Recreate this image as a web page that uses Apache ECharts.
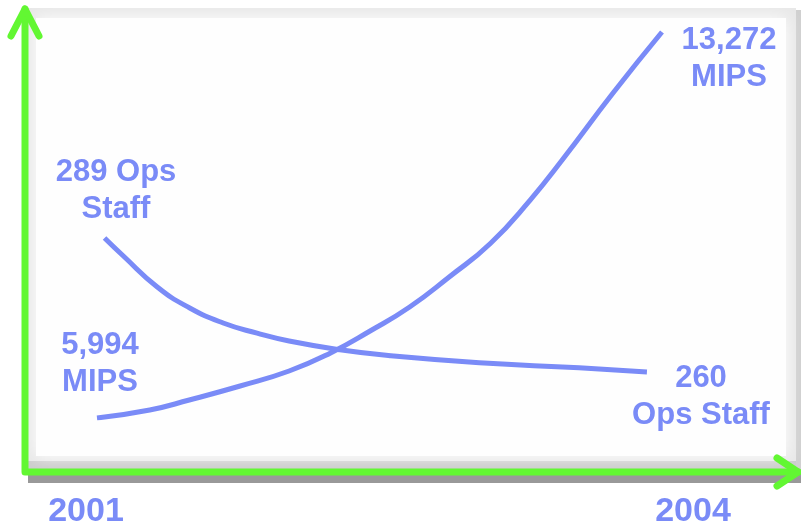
<!DOCTYPE html>
<html>
<head>
<meta charset="utf-8">
<script src="https://cdn.jsdelivr.net/npm/echarts@6/dist/echarts.min.js"></script>
<style>
html,body{margin:0;padding:0;background:#fff;}
#main{width:801px;height:528px;}
</style>
</head>
<body>
<div id="main"></div>
<script>
// Data (x = year position, y = value)
const mipsYears  = [2001.00, 2001.28, 2001.49, 2001.76, 2002.02, 2002.24, 2002.45, 2002.66, 2002.87, 2003.09, 2003.30, 2003.47, 2003.74, 2004.00];
const mipsValues = [5994, 6145, 6333, 6597, 6880, 7220, 7634, 8087, 8653, 9290, 10104, 10859, 12122, 13272];
const staffYears  = [2001.04, 2001.14, 2001.32, 2001.49, 2001.67, 2001.85, 2002.02, 2002.29, 2002.56, 2003.03, 2003.56, 2003.92];
const staffValues = [289, 285.1, 278.4, 273.9, 270.6, 268.4, 266.7, 264.8, 263.5, 262.0, 260.9, 260];
const yearLabels = ['2001', '2004'];
const mipsLabels = ['5,994\nMIPS', '13,272\nMIPS'];
const staffLabels = ['289 Ops\nStaff', '260\nOps Staff'];

const blue = '#7a8bf7';
const green = '#62f732';
const font = '"Liberation Sans", Arial, Helvetica, sans-serif';

function txt(s, x, y, size) {
  return {
    type: 'text', x: x, y: y, z: 10,
    style: {
      text: s, fill: blue, font: 'bold ' + size + 'px ' + font,
      textAlign: 'center', textVerticalAlign: 'middle', lineHeight: 37
    }
  };
}

const chart = echarts.init(document.getElementById('main'), null, {renderer: 'canvas'});
chart.setOption({
  animation: false,
  backgroundColor: '#ffffff',
  grid: {left: 97, right: 139, top: 32, bottom: 110},
  xAxis: {type: 'value', min: 2001, max: 2004, show: false},
  yAxis: [
    {type: 'value', min: 5994, max: 13272, show: false},
    {type: 'value', min: 250.04, max: 333.58, show: false}
  ],
  graphic: [
    {type: 'rect', z: 0, shape: {x: 28, y: 10, width: 773, height: 473}, style: {fill: '#d0d0d0'}},
    {type: 'rect', z: 0, shape: {x: 28, y: 474, width: 773, height: 9}, style: {fill: '#999999'}},
    {type: 'rect', z: 0, shape: {x: 26, y: 8, width: 770, height: 466}, style: {fill: '#e8e8e8'}},
    {type: 'rect', z: 0, shape: {x: 26, y: 461, width: 770, height: 8}, style: {fill: '#cccccc'}},
    {type: 'rect', z: 1, shape: {x: 36, y: 18, width: 750, height: 438},
      style: {fill: '#fefefe', shadowBlur: 16, shadowColor: '#ffffff'}},
    {type: 'polyline', z: 5, shape: {points: [[25, 9], [25, 472], [798, 472]]},
      style: {stroke: green, lineWidth: 7, lineCap: 'round', lineJoin: 'round', fill: null}},
    {type: 'polyline', z: 5, shape: {points: [[11, 36], [25, 9], [39, 36]]},
      style: {stroke: green, lineWidth: 7, lineCap: 'round', lineJoin: 'round', fill: null}},
    {type: 'polyline', z: 5, shape: {points: [[777, 458], [798, 472], [777, 486]]},
      style: {stroke: green, lineWidth: 7, lineCap: 'round', lineJoin: 'round', fill: null}},
    txt(staffLabels[0], 116, 191, 31),
    txt(mipsLabels[0], 100, 364, 31),
    txt(mipsLabels[1], 729, 59, 31),
    txt(staffLabels[1], 701, 397, 31),
    txt(yearLabels[0], 86, 512, 34),
    txt(yearLabels[1], 693, 512, 34)
  ],
  series: [
    {
      type: 'line', yAxisIndex: 0, smooth: 0.5, symbol: 'none', z: 3,
      lineStyle: {color: blue, width: 5, cap: 'butt'},
      data: mipsYears.map((x, i) => [x, mipsValues[i]])
    },
    {
      type: 'line', yAxisIndex: 1, smooth: 0.5, symbol: 'none', z: 3,
      lineStyle: {color: blue, width: 5, cap: 'butt'},
      data: staffYears.map((x, i) => [x, staffValues[i]])
    }
  ]
});
</script>
</body>
</html>
